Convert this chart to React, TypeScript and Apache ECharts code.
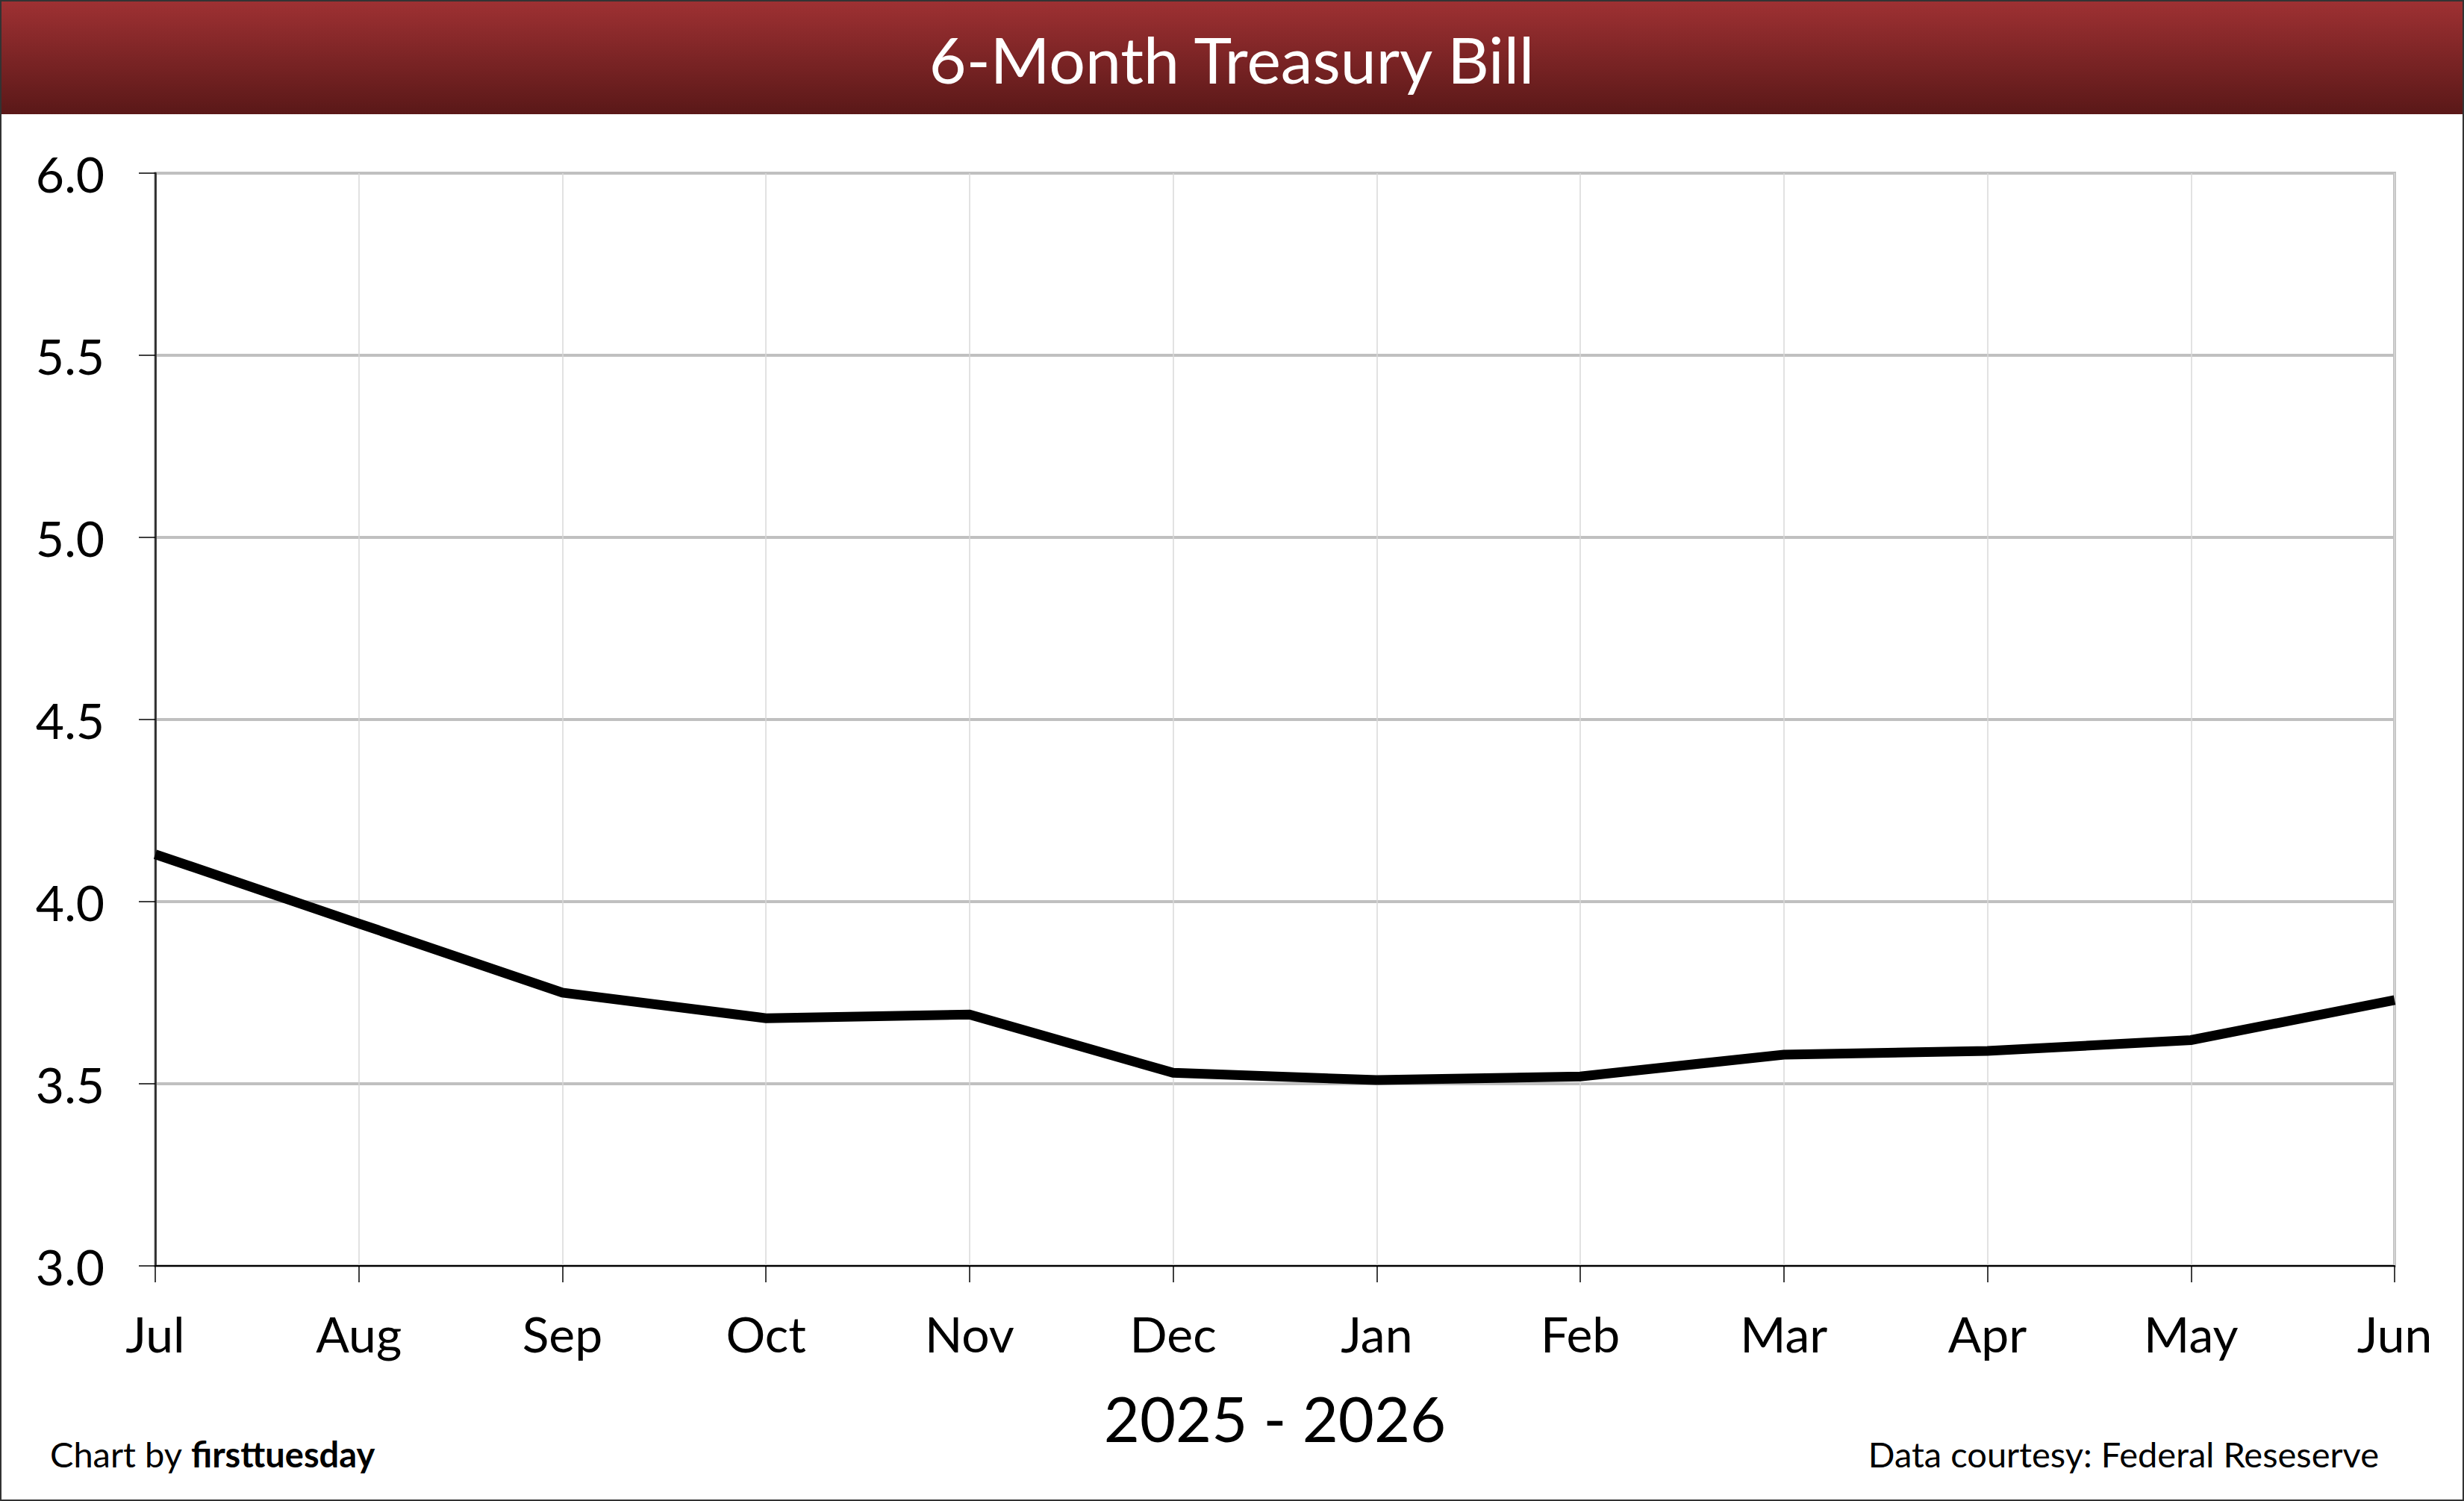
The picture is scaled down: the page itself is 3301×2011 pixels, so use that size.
import React, { useEffect, useRef } from "react";
import * as echarts from "echarts";

const months = ["Jul", "Aug", "Sep", "Oct", "Nov", "Dec", "Jan", "Feb", "Mar", "Apr", "May", "Jun"];
const yields = [4.13, 3.94, 3.75, 3.68, 3.69, 3.53, 3.51, 3.52, 3.58, 3.59, 3.62, 3.73];
const chartTitle = "6-Month Treasury Bill";
const xAxisTitle = "2025 - 2026";
const creditPrefix = "Chart by ";
const creditName = "firsttuesday";
const sourceNote = "Data courtesy: Federal Reseserve";
const yMin = 3;
const yMax = 6;
const yStep = 0.5;

const W = 3301;
const H = 2011;
const FONT = "Lato, 'Open Sans', sans-serif";

export default function App() {
  const ref = useRef<HTMLDivElement>(null);

  useEffect(() => {
    document.body.style.margin = "0";
    const chart = echarts.init(ref.current as HTMLDivElement, null, { renderer: "svg" });
    chart.setOption({
      animation: false,
      backgroundColor: "#ffffff",
      textStyle: { fontFamily: FONT, color: "#000" },
      grid: {
        left: 208,
        right: W - 3208,
        top: 232,
        bottom: H - 1696,
        show: true,
        borderColor: "#c0c0c0",
        borderWidth: 4,
        containLabel: false,
      },
      xAxis: {
        type: "category",
        data: months,
        boundaryGap: false,
        name: xAxisTitle,
        nameLocation: "middle",
        nameGap: 162,
        nameTextStyle: { fontSize: 83, color: "#000", fontFamily: FONT },
        axisLine: { show: true, lineStyle: { color: "#000", width: 2 } },
        axisTick: { show: true, inside: false, length: 22, lineStyle: { color: "#000", width: 1.5 } },
        axisLabel: { fontSize: 66, color: "#000", margin: 57, fontFamily: FONT, interval: 0 },
        splitLine: { show: true, lineStyle: { color: "#d9d9d9", width: 1.5 } },
      },
      yAxis: {
        type: "value",
        min: yMin,
        max: yMax,
        interval: yStep,
        axisLine: { show: true, lineStyle: { color: "#222", width: 2.5 } },
        axisTick: { show: true, inside: false, length: 22, lineStyle: { color: "#000", width: 1.5 } },
        axisLabel: {
          fontSize: 66,
          color: "#000",
          margin: 68,
          fontFamily: FONT,
          formatter: (v: number) => v.toFixed(1),
        },
        splitLine: { show: true, lineStyle: { color: "#c0c0c0", width: 4 } },
      },
      series: [
        {
          type: "line",
          data: yields,
          symbol: "none",
          smooth: false,
          lineStyle: { color: "#000", width: 13, join: "miter", cap: "butt" },
          itemStyle: { color: "#000" },
          z: 5,
        },
      ],
      graphic: [
        {
          type: "rect",
          silent: true,
          z: 1,
          shape: { x: 0, y: 0, width: W, height: 153 },
          style: {
            fill: new echarts.graphic.LinearGradient(0, 0, 0, 1, [
              { offset: 0, color: "#9f3133" },
              { offset: 1, color: "#5a1818" },
            ]),
          },
        },
        {
          type: "text",
          silent: true,
          z: 2,
          x: 1650,
          y: 78,
          style: {
            text: chartTitle,
            fill: "#ffffff",
            fontSize: 86,
            fontFamily: FONT,
            align: "center",
            verticalAlign: "middle",
          },
        },
        {
          type: "text",
          silent: true,
          z: 2,
          x: 67,
          y: 1948,
          style: {
            text: `{a|${creditPrefix}}{b|${creditName}}`,
            fill: "#000",
            fontSize: 47,
            fontFamily: FONT,
            align: "left",
            verticalAlign: "middle",
            rich: {
              a: { fontSize: 47, fontFamily: FONT, fontWeight: "normal", fill: "#000" },
              b: { fontSize: 47, fontFamily: FONT, fontWeight: "bold", fill: "#000" },
            },
          },
        },
        {
          type: "text",
          silent: true,
          z: 2,
          x: 3187,
          y: 1948,
          style: {
            text: sourceNote,
            fill: "#000",
            fontSize: 47,
            fontFamily: FONT,
            align: "right",
            verticalAlign: "middle",
          },
        },
        {
          type: "rect",
          silent: true,
          z: 20,
          shape: { x: 1, y: 1, width: W - 2, height: H - 2 },
          style: { fill: "none", stroke: "#333333", lineWidth: 2 },
        },
      ],
    });
    return () => chart.dispose();
  }, []);

  return <div ref={ref} style={{ width: W, height: H }} />;
}
